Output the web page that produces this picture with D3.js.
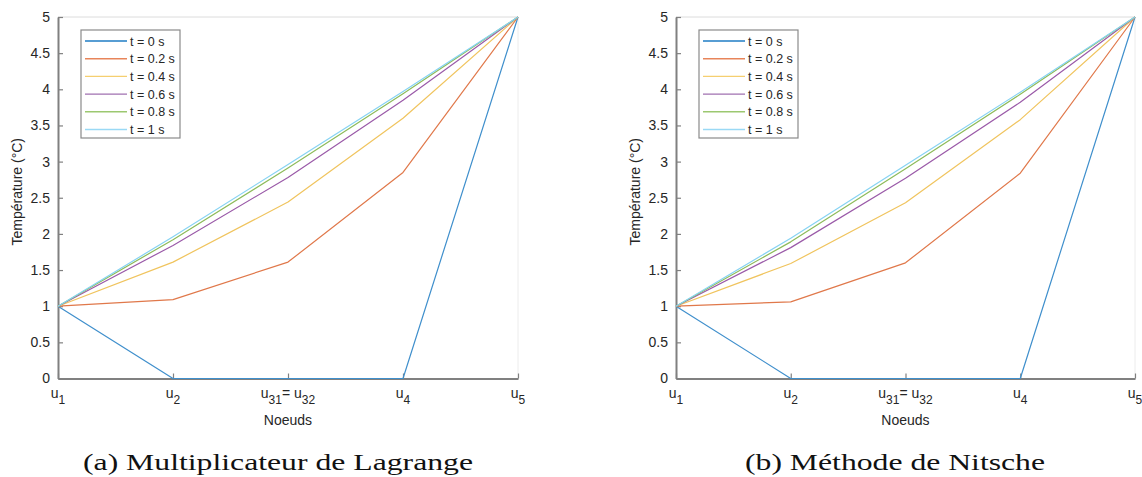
<!DOCTYPE html>
<html>
<head>
<meta charset="utf-8">
<script src="https://cdn.jsdelivr.net/npm/d3@7"></script>
<style>
  html, body { margin: 0; padding: 0; background: #fff; }
  svg { display: block; }
</style>
</head>
<body>
<svg id="chart" width="1142" height="477"></svg>
<script>
// ---------- data ----------
const nodes = ["u1", "u2", "u3", "u4", "u5"];
const nodeLabels = [["u", "1"], ["u", "2"], ["u", "31", "= u", "32"], ["u", "4"], ["u", "5"]];
const times = ["t = 0 s", "t = 0.2 s", "t = 0.4 s", "t = 0.6 s", "t = 0.8 s", "t = 1 s"];
const yTicks = [0, 0.5, 1, 1.5, 2, 2.5, 3, 3.5, 4, 4.5, 5];
const yTickLabels = ["0", "0.5", "1", "1.5", "2", "2.5", "3", "3.5", "4", "4.5", "5"];
const colors = ["#3a8fd0", "#e0784a", "#f0c45e", "#9a5aa8", "#8dbb5a", "#86d3f3"];
const legendColors = ["#1f7cc4", "#e8855a", "#f5cf70", "#a070b0", "#9cc870", "#9ad9f5"];

// (a) Multiplicateur de Lagrange
const lagT0  = [1, 0, 0, 0, 5];
const lagT02 = [1, 1.09, 1.61, 2.85, 5];
const lagT04 = [1, 1.61, 2.44, 3.60, 5];
const lagT06 = [1, 1.84, 2.78, 3.85, 5];
const lagT08 = [1, 1.92, 2.91, 3.94, 5];
const lagT1  = [1, 1.96, 2.96, 3.97, 5];

// (b) Méthode de Nitsche
const nitT0  = [1, 0, 0, 0, 5];
const nitT02 = [1, 1.06, 1.60, 2.84, 5];
const nitT04 = [1, 1.59, 2.43, 3.58, 5];
const nitT06 = [1, 1.81, 2.77, 3.82, 5];
const nitT08 = [1, 1.89, 2.90, 3.93, 5];
const nitT1  = [1, 1.94, 2.95, 3.96, 5];

const captions = ["(a) Multiplicateur de Lagrange", "(b) Méthode de Nitsche"];
const xLabel = "Noeuds";
const yLabel = "Température (°C)";

// ---------- drawing ----------
const svg = d3.select("#chart");
const axisColor = "#808080";
const textColor = "#262626";
const font = "'Liberation Sans', Arial, Helvetica, sans-serif";

function drawPanel(x0, x1, series, caption, captionCx, captionW) {
  const yTop = 17, yBot = 378.5;
  const x = d3.scalePoint().domain(nodes).range([x0, x1]);
  const y = d3.scaleLinear().domain([0, 5]).range([yBot, yTop]);
  const g = svg.append("g");

  // light box top/right
  g.append("line").attr("x1", x0).attr("x2", x1).attr("y1", yTop).attr("y2", yTop)
    .attr("stroke", "#dcdcdc").attr("stroke-width", 1);
  g.append("line").attr("x1", x1).attr("x2", x1).attr("y1", yTop).attr("y2", yBot)
    .attr("stroke", "#ececec").attr("stroke-width", 1);

  // y axis
  const yAxis = d3.axisLeft(y).tickValues(yTicks)
    .tickFormat((d, i) => yTickLabels[i]).tickSizeInner(-5).tickSizeOuter(0).tickPadding(8);
  const ya = g.append("g").attr("transform", `translate(${x0},0)`).call(yAxis);
  ya.select(".domain").attr("stroke", axisColor).attr("stroke-width", 2);
  ya.selectAll(".tick line").attr("stroke", axisColor).attr("stroke-width", 1.2);
  ya.selectAll(".tick text").attr("fill", textColor).style("font-family", font).style("font-size", "14px");

  // x axis
  const xAxis = d3.axisBottom(x).tickSizeInner(-5).tickSizeOuter(0).tickFormat("");
  const xa = g.append("g").attr("transform", `translate(0,${yBot})`).call(xAxis);
  xa.select(".domain").attr("stroke", axisColor).attr("stroke-width", 2);
  xa.selectAll(".tick line").attr("stroke", axisColor).attr("stroke-width", 1.2);

  // lines (drawn on top of axes)
  const line = d3.line().x((d, i) => x(nodes[i])).y(d => y(d));
  series.forEach((s, k) => {
    g.append("path").datum(s).attr("d", line)
      .attr("fill", "none").attr("stroke", k === 0 ? "#3f8fcc" : colors[k]).attr("stroke-width", 1.2)
      .attr("stroke-linejoin", "round");
  });

  // x tick labels with subscripts
  nodes.forEach((n, i) => {
    const parts = nodeLabels[i];
    const t = g.append("text").attr("x", x(n)).attr("y", 398)
      .attr("text-anchor", "middle").attr("fill", textColor)
      .style("font-family", font).style("font-size", "14px");
    parts.forEach((p, j) => {
      const isSub = j % 2 === 1;
      const ts = t.append("tspan").text(p);
      if (isSub) ts.attr("dy", 6).style("font-size", "12px");
      else if (j > 0) ts.attr("dy", -6);
    });
  });

  // axis labels
  g.append("text").attr("x", (x0 + x1) / 2).attr("y", 425).attr("text-anchor", "middle")
    .attr("fill", textColor).style("font-family", font).style("font-size", "14px").text(xLabel);
  g.append("text").attr("transform", `translate(${x0 - 36},${(yTop + yBot) / 2 - 6}) rotate(-90)`)
    .attr("text-anchor", "middle").attr("fill", textColor)
    .style("font-family", font).style("font-size", "14px").text(yLabel);

  // legend
  const lx = x0 + 23, ly = 30, lw = 99, lh = 108;
  const lg = g.append("g");
  lg.append("rect").attr("x", lx).attr("y", ly).attr("width", lw).attr("height", lh)
    .attr("fill", "#fff").attr("stroke", "#8a8a8a").attr("stroke-width", 1.2);
  times.forEach((tname, k) => {
    const ry = ly + 11 + k * 17.7;
    lg.append("line").attr("x1", lx + 4).attr("x2", lx + 46).attr("y1", ry).attr("y2", ry)
      .attr("stroke", legendColors[k]).attr("stroke-width", 1.4);
    lg.append("text").attr("x", lx + 49).attr("y", ry + 4.5).attr("fill", textColor)
      .style("font-family", font).style("font-size", "12.5px").text(tname);
  });

  // caption
  svg.append("text").attr("x", captionCx).attr("y", 469.5).attr("text-anchor", "middle")
    .attr("fill", "#111").style("font-family", "'Liberation Serif', 'DejaVu Serif', serif")
    .style("font-size", "24px")
    .attr("textLength", captionW).attr("lengthAdjust", "spacingAndGlyphs")
    .text(caption);
}

drawPanel(58, 518, [lagT0, lagT02, lagT04, lagT06, lagT08, lagT1], captions[0], 278, 390);
drawPanel(676, 1135, [nitT0, nitT02, nitT04, nitT06, nitT08, nitT1], captions[1], 895, 300);
</script>
</body>
</html>
